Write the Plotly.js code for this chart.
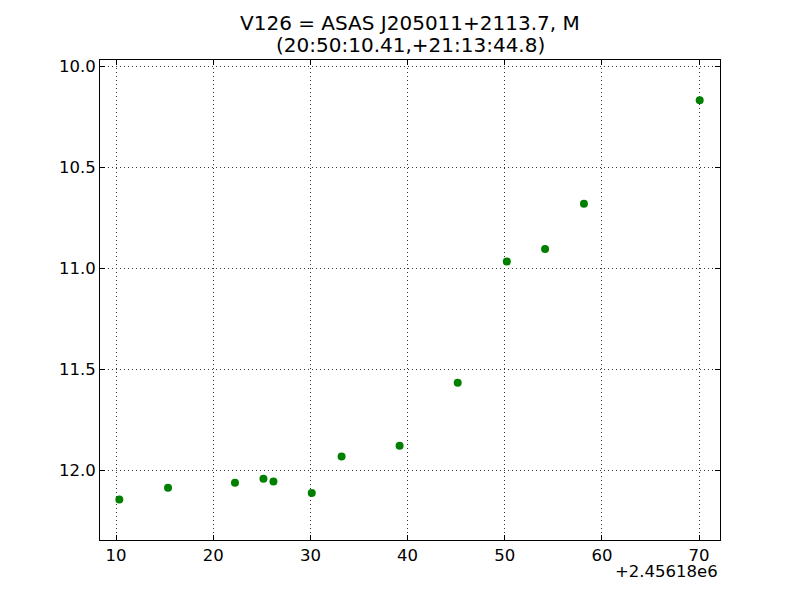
<!DOCTYPE html>
<html>
<head>
<meta charset="utf-8">
<script src="https://cdn.plot.ly/plotly-3.0.1.min.js"></script>
<style>html,body{margin:0;padding:0;background:#fff;}#chart{width:800px;height:600px;}</style>
</head>
<body>
<div id="chart"></div>
<script>
const titleLines = ["V126 = ASAS J205011+2113.7, M", "(20:50:10.41,+21:13:44.8)"];
const xOffsetLabel = "+2.45618e6";
const jdOffset = [10.34, 15.35, 22.24, 25.17, 26.20, 30.14, 33.21, 39.18, 45.16, 50.21, 54.15, 58.15, 70.06];
const magnitude = [12.142, 12.084, 12.060, 12.040, 12.053, 12.110, 11.930, 11.876, 11.564, 10.964, 10.902, 10.678, 10.166];
const xTicks = [10, 20, 30, 40, 50, 60, 70];
const yTicks = [10.0, 10.5, 11.0, 11.5, 12.0];

const font = {family: "DejaVu Sans", size: 16.5, color: "#000"};
const titleFont = {family: "DejaVu Sans", size: 20, color: "#000"};

const trace = {
  x: jdOffset,
  y: magnitude,
  mode: "markers",
  type: "scatter",
  marker: {color: "#008000", size: 8, line: {width: 0}},
  hoverinfo: "skip"
};

const axisCommon = {
  showline: true, linecolor: "#000", linewidth: 1, mirror: "allticks",
  ticks: "inside", ticklen: 5, tickwidth: 1, tickcolor: "#000",
  showgrid: true, gridcolor: "#333", gridwidth: 1, griddash: "1px,3px",
  zeroline: false, tickfont: font
};

const layout = {
  width: 800, height: 600,
  margin: {l: 100, r: 80, t: 60, b: 60},
  paper_bgcolor: "#fff", plot_bgcolor: "#fff",
  showlegend: false,
  font: font,
  xaxis: Object.assign({}, axisCommon, {range: [8.35, 72.15], tickmode: "array", tickvals: xTicks, ticktext: xTicks.map(String)}),
  yaxis: Object.assign({}, axisCommon, {range: [12.343, 9.967], tickmode: "array", tickvals: yTicks, ticktext: yTicks.map(v => v.toFixed(1))}),
  annotations: [
    {text: titleLines[0], xref: "paper", yref: "paper", x: 0.5, y: 1, xanchor: "center", yanchor: "middle",
     yshift: 37, showarrow: false, font: titleFont},
    {text: titleLines[1], xref: "paper", yref: "paper", x: 0.5, y: 1, xanchor: "center", yanchor: "middle",
     yshift: 15, showarrow: false, font: titleFont},
    {text: xOffsetLabel, xref: "paper", yref: "paper", x: 1, y: 0, xanchor: "right", yanchor: "middle",
     yshift: -31, showarrow: false, font: font}
  ]
};

Plotly.newPlot("chart", [trace], layout, {staticPlot: true, displayModeBar: false});
</script>
</body>
</html>
